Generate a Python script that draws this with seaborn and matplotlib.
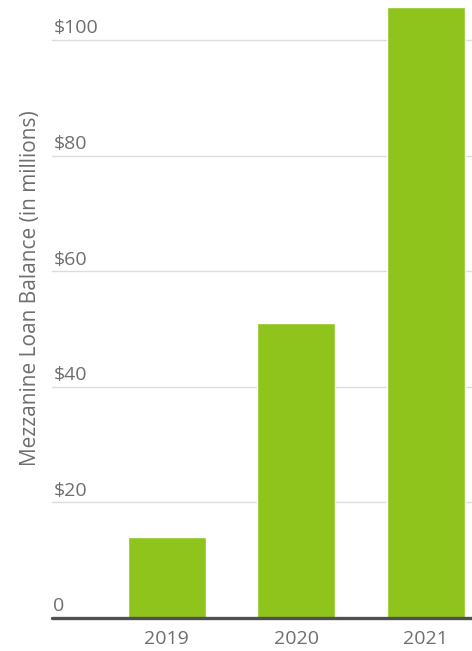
import matplotlib
matplotlib.use("Agg")
import matplotlib.pyplot as plt
import seaborn as sns
import pandas as pd

years = ["2019", "2020", "2021"]
balances = [14.0, 51.0, 105.8]
y_ticks = [0, 20, 40, 60, 80, 100]
y_tick_labels = ["0", "$20", "$40", "$60", "$80", "$100"]
y_label = "Mezzanine Loan Balance (in millions)"

sns.set_theme(style="white")
plt.rcParams["font.family"] = ["Open Sans", "DejaVu Sans"]

text_color = "#6e6e6e"
bar_color = "#8fc41c"

df = pd.DataFrame({"year": years, "balance": balances})

fig = plt.figure(figsize=(4.72, 6.51), dpi=100)
ax = fig.add_axes([0.110, 0.0507, 0.890, 0.9493])

sns.barplot(data=df, x="year", y="balance", order=years, color=bar_color,
            saturation=1, width=0.6, ax=ax, zorder=3)

ax.set_xlim(-0.886, 2.357)
ax.set_ylim(0, 107)

for s in ax.spines.values():
    s.set_visible(False)

ax.set_yticks(y_ticks[1:])
ax.set_yticklabels([])
ax.tick_params(axis="y", length=0)
ax.yaxis.grid(True, color="#dcdcdc", linewidth=1.0, zorder=0)
ax.set_axisbelow(True)
ax.axhline(0, color="#4f4f57", linewidth=2.4, zorder=4, clip_on=False)

for v, lab in zip(y_ticks, y_tick_labels):
    ax.annotate(lab, xy=(0, v), xycoords=("axes fraction", "data"),
                xytext=(1, 5), textcoords="offset points",
                ha="left", va="baseline", fontsize=14, color=text_color)

ax.tick_params(axis="x", length=0, pad=9, labelsize=14, labelcolor=text_color)
ax.set_xlabel("")
ax.set_ylabel(y_label, fontsize=15, color=text_color)
ax.yaxis.set_label_coords(-0.026, 0.534)

fig.savefig("out.png", dpi=100)
